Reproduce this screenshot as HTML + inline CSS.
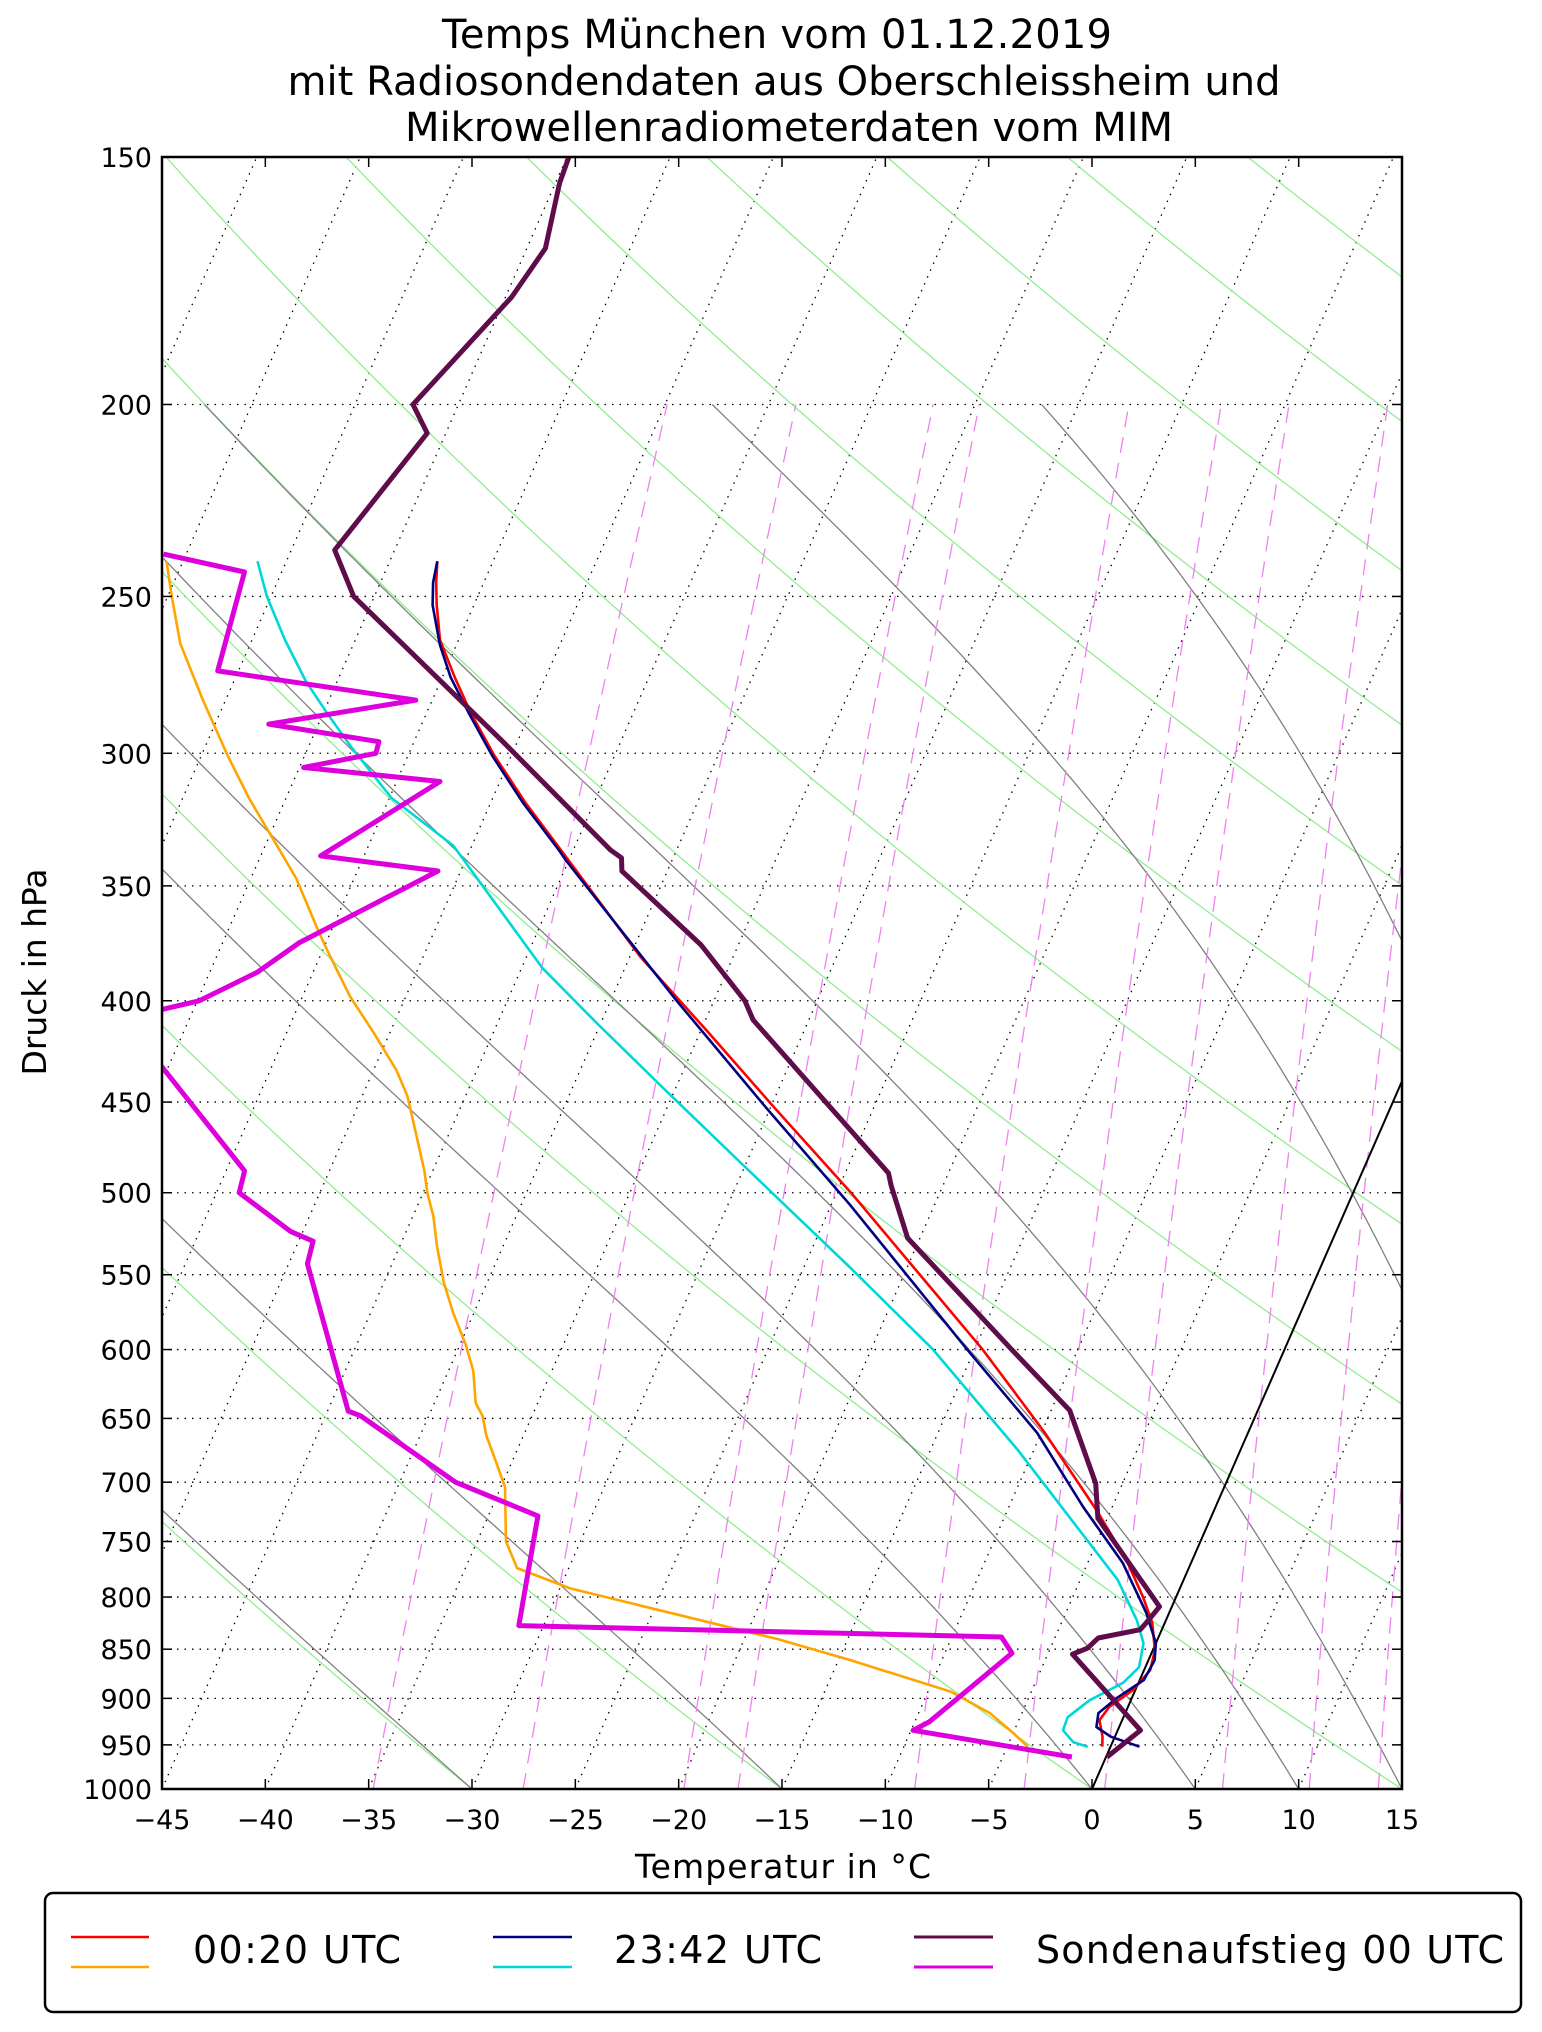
<!DOCTYPE html>
<html><head><meta charset="utf-8"><style>
html,body{margin:0;padding:0;background:#fff;}
svg{display:block;font-family:"DejaVu Sans","Liberation Sans",sans-serif;}
</style></head><body>
<svg id="chart" width="1542" height="2032" viewBox="0 0 1542 2032" xmlns="http://www.w3.org/2000/svg">
<rect width="1542" height="2032" fill="#fff"/>
<g font-size="40" text-anchor="middle" fill="#000">
<text x="777" y="48" textLength="670">Temps München vom 01.12.2019</text>
<text x="784" y="95" textLength="993">mit Radiosondendaten aus Oberschleissheim und</text>
<text x="789" y="141" textLength="768">Mikrowellenradiometerdaten vom MIM</text>
</g>
<defs><clipPath id="plotclip"><rect x="162" y="157" width="1240" height="1632"/></clipPath></defs>
<g id="bg" clip-path="url(#plotclip)"></g>
<g id="series" clip-path="url(#plotclip)"></g>
<g id="axes"></g>
<text x="783" y="1878" font-size="33" textLength="296" text-anchor="middle">Temperatur in °C</text>
<text transform="translate(46,972) rotate(-90)" font-size="33" textLength="207" text-anchor="middle">Druck in hPa</text>
<g>
<rect x="45" y="1893" width="1476" height="119" rx="8" fill="#fff" stroke="#000" stroke-width="2.5"/>
<line x1="71" y1="1937" x2="149" y2="1937" stroke="#ff0000" stroke-width="2.5"/>
<line x1="71" y1="1967" x2="149" y2="1967" stroke="#ffa500" stroke-width="2.5"/>
<text x="193" y="1963" font-size="38" textLength="208">00:20 UTC</text>
<line x1="493" y1="1937" x2="572" y2="1937" stroke="#000080" stroke-width="2.5"/>
<line x1="493" y1="1967" x2="572" y2="1967" stroke="#00d8d8" stroke-width="2.5"/>
<text x="614" y="1963" font-size="38" textLength="208">23:42 UTC</text>
<line x1="914" y1="1937" x2="993" y2="1937" stroke="#5e0c4a" stroke-width="3"/>
<line x1="914" y1="1967" x2="993" y2="1967" stroke="#dd00dd" stroke-width="3"/>
<text x="1036" y="1963" font-size="38" textLength="468">Sondenaufstieg 00 UTC</text>
</g>
</svg>
<script>
// ---- data (pressure hPa, temperature °C) ----
const sondeP = [150,154.6,166.8,176.5,200,206.8,236.9,250,296,335.7,338.8,344,374.9,400,409,488.7,496,527,600,644,701,730,809,824.5,831,839,849,855,934,963.5];
const sondeT = [-59.9,-59.8,-59.1,-59.7,-62.2,-60.9,-62.9,-61.0,-50.7,-43.2,-42.5,-42.2,-36.8,-33.5,-32.7,-22.9,-22.5,-20.6,-13.2,-9.1,-6.3,-5.45,-0.6,-0.9,-1.05,-2.9,-3.2,-3.8,1.1,0.05];
const sondeDewP = [238,243,272.6,282,290,296,300,305,310,338,344,374,387,400,404,418,432,487.5,500,523,529,543,644.5,648,700,728,827,838,854,925,934,963.5];
const sondeDewT = [-71.1,-66.8,-66.0,-55.8,-62.4,-56.7,-56.6,-59.8,-52.9,-57.1,-51.1,-56.3,-57.7,-59.9,-61.5,-68,-60.3,-54.1,-53.9,-50.6,-49.3,-49.1,-44.0,-43.3,-37.3,-32.6,-31.2,-7.6,-6.75,-9.3,-9.9,-1.65];
const mwr1P = [240,246,252.5,263,274.6,286,300.6,317.5,335.7,380,415,453,500,600,660,723,766,800,824.5,851,871,891,909,923,941,952];
const mwr1T = [-57.7,-57.3,-56.8,-55.9,-54.4,-52.9,-50.85,-48.35,-45.6,-39.5,-34.6,-29.8,-24.3,-14.6,-9.9,-5.7,-3.2,-1.6,-0.6,0.1,0.3,-0.1,-0.9,-1.1,-0.6,-0.4];
const mwr1DewP = [240,250,264,282,301,316,335,347,368,379,398,415,433.5,447,477,487.5,500,514,532,555,575,597,615,638.5,648,663,681,704,750,773.5,792,840,861,893,915.5,937,952];
const mwr1DewT = [-70.8,-69.8,-68.4,-66.1,-63.7,-61.8,-59.3,-57.8,-55.7,-54.6,-52.7,-50.8,-48.9,-47.8,-46.0,-45.4,-44.8,-44.0,-43.2,-42.1,-41.0,-39.7,-38.8,-38.0,-37.4,-36.8,-35.9,-34.8,-33.6,-32.5,-29.5,-18.4,-14.4,-8.9,-6.55,-5.0,-4.0];
const mwr2P = [240,246,252.5,264.5,274.6,286,301,318,335.7,340,400,453,507,600,661,720.5,769,815,844,861,881,899,915.5,930.5,941,952];
const mwr2T = [-57.7,-57.45,-57.0,-55.8,-54.6,-53.0,-50.9,-48.4,-45.7,-45.1,-36.8,-30.2,-24.1,-15.35,-10.2,-6.4,-3.3,-1.1,0.0,0.3,0.2,-0.7,-1.3,-1.1,-0.2,1.4];
const mwr2DewP = [240,250,263,276,287,298,316,334,385,410.5,442,485,545,600,674,743,784,822,844,868,884,902,920,934,947,952];
const mwr2DewT = [-66.4,-65.2,-63.4,-61.5,-59.7,-57.9,-54.9,-50.9,-44.0,-40.2,-35.7,-30.0,-22.8,-17.0,-10.8,-5.9,-3.2,-1.4,-0.6,-0.3,-0.75,-2.0,-2.7,-2.65,-1.9,-1.1];
const xTicks = [-45,-40,-35,-30,-25,-20,-15,-10,-5,0,5,10,15];
const yTicks = [150,200,250,300,350,400,450,500,550,600,650,700,750,800,850,900,950,1000];
const dryThetaC = [-105,-90,-75,-60,-45,-30,-15,0,15,30,45,60,75,90,105,120,135,150];
const moistT0 = [-30,-15,0,5,10,15,25,30];
const mixRatios = [0.0002,0.0004,0.0008,0.001,0.002,0.003,0.004,0.006,0.008,0.01,0.012];

// ---- axis functions ----
const X0=162, X1=1402, YB=1789, YT=157, SKEW=0.438;
const PX = (X1-X0)/60;
function yOf(p){ return YB - (YB-YT)*Math.log(1000/p)/Math.log(1000/150); }
function xOf(t,p){ return X0 + (t+45)*PX + (YB - yOf(p))*SKEW; }
const NS="http://www.w3.org/2000/svg";
const bg=document.getElementById('bg'), ser=document.getElementById('series'), ax=document.getElementById('axes');
function mk(tag,parent,attrs){ const e=document.createElementNS(NS,tag); for(const k in attrs) e.setAttribute(k,attrs[k]); parent.appendChild(e); return e; }
function pathFrom(ps,ts){ let d=''; for(let i=0;i<ps.length;i++){ d+=(i?'L':'M')+xOf(ts[i],ps[i]).toFixed(1)+','+yOf(ps[i]).toFixed(1); } return d; }
function range(a,b,n){ const r=[]; for(let i=0;i<=n;i++) r.push(a*Math.pow(b/a,i/n)); return r; }

// isotherms
for(let t=-120;t<=15;t+=5){
  const l=mk('line',bg,{x1:xOf(t,1000),y1:yOf(1000),x2:xOf(t,150),y2:yOf(150),stroke:'#000','stroke-width':1.3,'stroke-dasharray':'1.5,6'});
  
  
}
// isobars
for(const p of yTicks){ if(p===150||p===1000) continue;
  const l=mk('line',bg,{x1:X0,y1:yOf(p),x2:X1,y2:yOf(p),stroke:'#000','stroke-width':1.3,'stroke-dasharray':'1.5,6'});
  
  
}
// dry adiabats
const pFull=range(1000,150,60);
for(const th of dryThetaC){ const TK=th+273.15;
  const ts=pFull.map(p=>TK*Math.pow(p/1000,0.2857)-273.15);
  const e=mk('path',bg,{d:pathFrom(pFull,ts),fill:'none',stroke:'#90ee90','stroke-width':1.3});
  
  
}
// moist adiabats
function es(tc){ return 6.112*Math.exp(17.67*tc/(tc+243.5)); }
for(const t0 of moistT0){
  const ps=[], ts=[]; let T=t0+273.15, p=1000; const n=200, dl=Math.log(200/1000)/n;
  for(let i=0;i<=n;i++){ ps.push(p); ts.push(T-273.15);
    for(let s=0;s<4;s++){ const pp=p*Math.exp(dl*s/4); const e1=es(T-273.15); const rs=0.622*e1/(pp-e1);
      const dTdlnp=(287*T+2.5e6*rs)/(1005+2.5e6*2.5e6*rs*0.622/(287*T*T));
      T+=dTdlnp*dl/4; }
    p=p*Math.exp(dl); }
  const e=mk('path',bg,{d:pathFrom(ps,ts),fill:'none',stroke:'#808080','stroke-width':1.3});
  
  
}
// mixing ratio lines
const pMix=range(1000,200,20);
for(const w of mixRatios){
  const ts=pMix.map(p=>{ const e=w*p/(0.622+w); const l=Math.log(e/6.112); return 243.5*l/(17.67-l); });
  const e=mk('path',bg,{d:pathFrom(pMix,ts),fill:'none',stroke:'#ee82ee','stroke-width':1.3,'stroke-dasharray':'16,10'});
  
  
}
// 0°C line
const zl=mk('line',bg,{x1:xOf(0,1000),y1:yOf(1000),x2:xOf(0,150),y2:yOf(150),stroke:'#000','stroke-width':2});



// series
function series(ps,ts,color,w,name){ const e=mk('path',ser,{d:pathFrom(ps,ts),fill:'none',stroke:color,'stroke-width':w,'stroke-linejoin':'round'});
  
   }
series(mwr1DewP,mwr1DewT,'#ffa500',2.6,'mwr-0020-dewpoint');
series(mwr2DewP,mwr2DewT,'#00d8d8',2.6,'mwr-2342-dewpoint');
series(mwr1P,mwr1T,'#ff0000',2.6,'mwr-0020-temperature');
series(mwr2P,mwr2T,'#000080',2.6,'mwr-2342-temperature');
series(sondeDewP,sondeDewT,'#dd00dd',5,'sonde-dewpoint');
series(sondeP,sondeT,'#5e0c4a',5,'sonde-temperature');

// axes frame and ticks
const fr=mk('rect',ax,{x:X0,y:YT,width:X1-X0,height:YB-YT,fill:'none',stroke:'#000','stroke-width':2.5});


for(const t of xTicks){ const x=X0+(t+45)*PX;
  mk('line',ax,{x1:x,y1:YB,x2:x,y2:YB-10,stroke:'#000','stroke-width':1.5});
  mk('line',ax,{x1:x,y1:YT,x2:x,y2:YT+10,stroke:'#000','stroke-width':1.5});
  const tx=mk('text',ax,{x:x,y:1829,'font-size':27,'text-anchor':'middle'});
  tx.textContent=(t<0?'\u2212':'')+Math.abs(t);
  
  
}
for(const p of yTicks){ const y=yOf(p);
  mk('line',ax,{x1:X0,y1:y,x2:X0+10,y2:y,stroke:'#000','stroke-width':1.5});
  mk('line',ax,{x1:X1,y1:y,x2:X1-10,y2:y,stroke:'#000','stroke-width':1.5});
  const tx=mk('text',ax,{x:152,y:y+10,'font-size':27,'text-anchor':'end'});
  tx.textContent=p;
  
  
}
</script>
</body></html>
